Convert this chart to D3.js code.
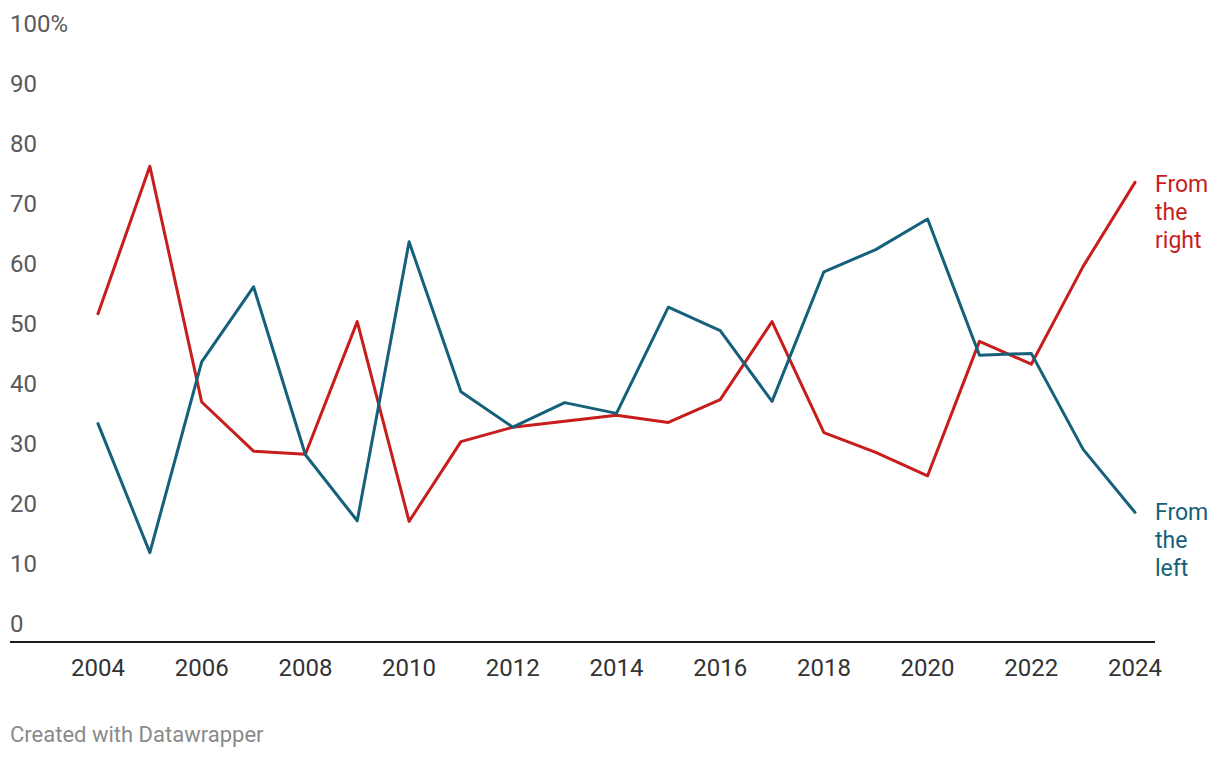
<!DOCTYPE html>
<html>
<head>
<meta charset="utf-8">
<style>
  body { margin: 0; background: #fff; }
  svg text { font-family: Roboto, sans-serif; }
  .ytick { fill: #595959; font-size: 24px; }
  .xtick { fill: #333; font-size: 24px; }
  .line { fill: none; stroke-width: 3px; stroke-linejoin: round; stroke-linecap: round; }
  .label { font-size: 23px; }
  .footer { fill: #8a8a8a; font-size: 22px; }
</style>
</head>
<body>
<svg width="1220" height="758"></svg>
<script src="https://cdn.jsdelivr.net/npm/d3@7"></script>
<script>
var years = [2004, 2005, 2006, 2007, 2008, 2009, 2010, 2011, 2012, 2013, 2014,
             2015, 2016, 2017, 2018, 2019, 2020, 2021, 2022, 2023, 2024];
var fromRight = [54.7, 79.3, 40.0, 31.8, 31.3, 53.4, 20.1, 33.4, 35.8, 36.8, 37.8,
                 36.6, 40.4, 53.4, 34.9, 31.6, 27.7, 50.1, 46.3, 62.6, 76.6];
var fromLeft = [36.4, 14.9, 46.7, 59.2, 31.2, 20.2, 66.7, 41.7, 35.8, 39.9, 38.1,
                55.8, 51.9, 40.1, 61.7, 65.4, 70.5, 47.8, 48.1, 32.1, 21.6];
var yTicks = [0, 10, 20, 30, 40, 50, 60, 70, 80, 90, 100];
var xTicks = [2004, 2006, 2008, 2010, 2012, 2014, 2016, 2018, 2020, 2022, 2024];

var series = [
  {name: ["From", "the", "right"], values: fromRight, color: "#c71e1d"},
  {name: ["From", "the", "left"], values: fromLeft, color: "#15607a"}
];

var svg = d3.select("svg");

var x = d3.scaleLinear().domain([2004, 2024]).range([98, 1135]);
var y = d3.scaleLinear().domain([0, 100]).range([642, 42]);

// y labels sit above their (invisible) gridlines
svg.selectAll(".ytick")
  .data(yTicks)
  .enter().append("text")
    .attr("class", "ytick")
    .attr("x", 10)
    .attr("y", function(d) { return y(d) - 10; })
    .text(function(d) { return d === 100 ? "100%" : d; });

svg.append("line")
  .attr("x1", 10).attr("x2", 1155)
  .attr("y1", y(0)).attr("y2", y(0))
  .attr("stroke", "#1d1d1d")
  .attr("stroke-width", 2);

svg.selectAll(".xtick")
  .data(xTicks)
  .enter().append("text")
    .attr("class", "xtick")
    .attr("x", function(d) { return x(d); })
    .attr("y", 676)
    .attr("text-anchor", "middle")
    .text(function(d) { return d; });

var line = d3.line()
  .x(function(d, i) { return x(years[i]); })
  .y(function(d) { return y(d); });

svg.selectAll(".line")
  .data(series)
  .enter().append("path")
    .attr("class", "line")
    .attr("stroke", function(d) { return d.color; })
    .attr("d", function(d) { return line(d.values); });

var labelTop = {"right": 192, "left": 520};
series.forEach(function(s) {
  var t = svg.append("text")
    .attr("class", "label")
    .attr("fill", s.color);
  s.name.forEach(function(w, i) {
    t.append("tspan")
      .attr("x", 1155)
      .attr("y", labelTop[s.name[2]] + i * 28)
      .text(w);
  });
});

svg.append("text")
  .attr("class", "footer")
  .attr("x", 10)
  .attr("y", 742)
  .text("Created with Datawrapper");
</script>
</body>
</html>
